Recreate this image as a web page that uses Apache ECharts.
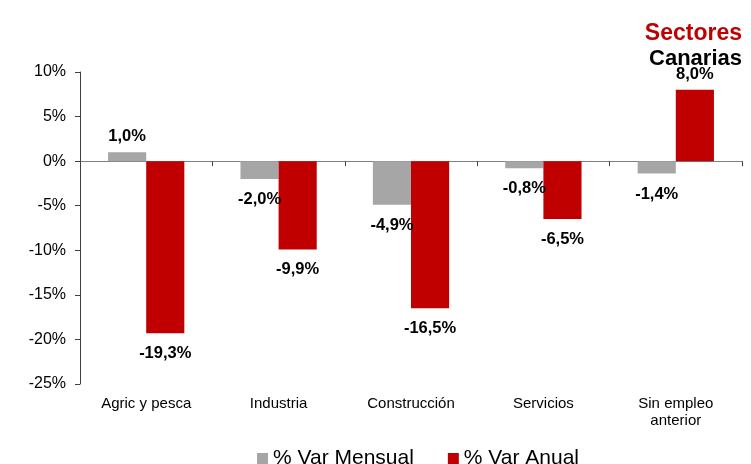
<!DOCTYPE html>
<html>
<head>
<meta charset="utf-8">
<script src="https://cdn.jsdelivr.net/npm/echarts@6/dist/echarts.min.js"></script>
<style>
  html, body { margin: 0; padding: 0; background: #fff; }
  #chart { width: 751px; height: 464px; }
</style>
</head>
<body>
<div id="chart"></div>
<script>
  // datos
  var sectores = ['Agric y pesca', 'Industria', 'Construcción', 'Servicios', 'Sin empleo\nanterior'];
  var varMensual = [1.0, -2.0, -4.9, -0.8, -1.4];
  var varAnual = [-19.3, -9.9, -16.5, -6.5, 8.0];
  var nombres = ['% Var Mensual', '% Var Anual'];

  var FONT = '"Liberation Sans", Arial, sans-serif';

  function fmt(v) {
    return v.toFixed(1).replace('.', ',') + '%';
  }

  function serie(name, data, color) {
    return {
      name: name,
      type: 'bar',
      barWidth: '28.8%',
      barGap: '0%',
      itemStyle: { color: color },
      data: data.map(function (v) {
        return {
          value: v,
          label: {
            show: true,
            position: v >= 0 ? 'top' : 'bottom',
            distance: v >= 0 ? 7 : 12,
            formatter: function (p) { return fmt(p.value) },
            fontFamily: FONT,
            fontWeight: 'bold',
            fontSize: 16.5,
            color: '#000'
          }
        }
      })
    }
  }

  var chart = echarts.init(document.getElementById('chart'));
  chart.setOption({
    animation: false,
    title: [
      {
        text: 'Sectores', right: 4, top: 17,
        textStyle: { fontFamily: FONT, fontWeight: 'bold', fontSize: 23, color: '#c00000' }
      },
      {
        text: 'Canarias', right: 4, top: 43,
        textStyle: { fontFamily: FONT, fontWeight: 'bold', fontSize: 22, color: '#000' }
      }
    ],
    legend: {
      data: nombres,
      top: 443,
      left: 252,
      icon: 'rect',
      itemWidth: 11,
      itemHeight: 11,
      itemGap: 34,
      textStyle: { fontFamily: FONT, fontSize: 21, color: '#000' }
    },
    grid: { left: 80, right: 9, top: 72, bottom: 80 },
    xAxis: [
      {
        type: 'category',
        data: sectores,
        position: 'bottom',
        axisLine: { show: false, onZero: false },
        axisTick: { show: false },
        axisLabel: { fontFamily: FONT, fontSize: 15, color: '#000', margin: 11, lineHeight: 17 }
      },
      {
        type: 'category',
        data: sectores,
        position: 'bottom',
        axisLine: { onZero: true, lineStyle: { color: '#808080', width: 1 } },
        axisTick: { show: true, length: 5, lineStyle: { color: '#404040' } },
        axisLabel: { show: false }
      }
    ],
    yAxis: {
      type: 'value',
      min: -25,
      max: 10,
      interval: 5,
      splitLine: { show: false },
      axisLine: { show: true, lineStyle: { color: '#404040' } },
      axisTick: { show: true, length: 5, lineStyle: { color: '#404040' } },
      axisLabel: {
        fontFamily: FONT, fontSize: 16, color: '#000', margin: 14,
        formatter: function (v) { return v + '%' }
      }
    },
    series: [
      serie(nombres[0], varMensual, '#a6a6a6'),
      serie(nombres[1], varAnual, '#c00000')
    ]
  });
</script>
</body>
</html>
